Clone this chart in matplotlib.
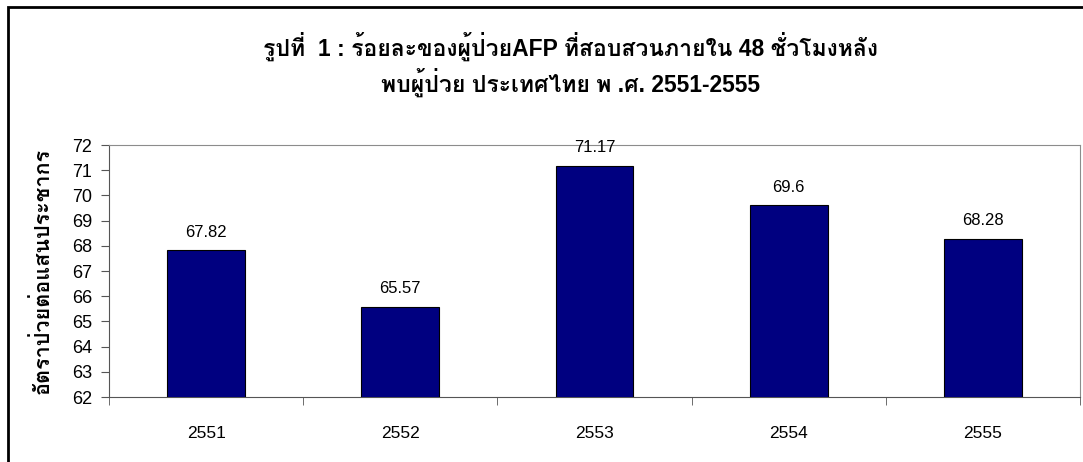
import matplotlib
matplotlib.use('Agg')
import matplotlib.pyplot as plt
from matplotlib import font_manager
from matplotlib.ft2font import FT2Font
from matplotlib.patches import Rectangle

years = ['2551', '2552', '2553', '2554', '2555']
values = [67.82, 65.57, 71.17, 69.6, 68.28]
title_1 = 'รูปที่  1 : ร้อยละของผู้ป่วยAFP ที่สอบสวนภายใน 48 ชั่วโมงหลัง'
title_2 = 'พบผู้ป่วย ประเทศไทย พ .ศ. 2551-2555'
ylabel = 'อัตราป่วยต่อแสนประชากร'


def find_thai_font():
    # first installed family that carries the Thai block
    for f in font_manager.fontManager.ttflist:
        try:
            if 0x0E23 in FT2Font(f.fname).get_charmap():
                return f.name
        except Exception:
            pass
    return None


thai = find_thai_font()
fams = ['Liberation Sans', 'DejaVu Sans']
if thai:
    fams = ['Liberation Sans', thai, 'DejaVu Sans']
plt.rcParams['font.family'] = fams

fig = plt.figure(figsize=(10.83, 4.62), dpi=100)
ax = fig.add_axes([109 / 1083, 1 - 397 / 462, (1080 - 109) / 1083, (397 - 145) / 462])

x = list(range(len(years)))
bars = ax.bar(x, values, width=0.4, color='#000080', edgecolor='black', linewidth=0.8, zorder=3)
for xi, v in zip(x, values):
    ax.text(xi, v + 0.42, f'{v:g}', ha='center', va='bottom', fontsize=12, clip_on=False)

ax.set_ylim(62, 72)
ax.set_xlim(-0.5, len(years) - 0.5)
ax.set_yticks(range(62, 73))
ax.set_xticks(x)
ax.set_xticklabels(years)
ax.set_xticks([i - 0.5 for i in range(len(years) + 1)], minor=True)
ax.tick_params(axis='x', which='major', length=0, pad=21, labelsize=12.5)
ax.tick_params(axis='x', which='minor', length=5.5, color='#555555', direction='out')
ax.tick_params(axis='y', length=6, color='#555555', pad=6, labelsize=13)

for s in ['top', 'right']:
    ax.spines[s].set_color('#8c8c8c')
for s in ['left', 'bottom']:
    ax.spines[s].set_color('#555555')

ax.set_ylabel(ylabel, fontsize=15.5, fontweight='bold', va='center')
ax.yaxis.set_label_coords(-0.068, 0.5)

fig.text(0.527, 1 - 46 / 462, title_1, ha='center', va='center', fontsize=16.5, fontweight='bold')
fig.text(0.527, 1 - 82 / 462, title_2, ha='center', va='center', fontsize=16.5, fontweight='bold')

# outer chart frame (only left and top edges fall inside the picture)
fig.add_artist(Rectangle((8 / 1083, -0.1), 2, 1.1 - 7 / 462, transform=fig.transFigure,
                         fill=False, edgecolor='black', linewidth=2))

fig.savefig('out.png', dpi=100)
